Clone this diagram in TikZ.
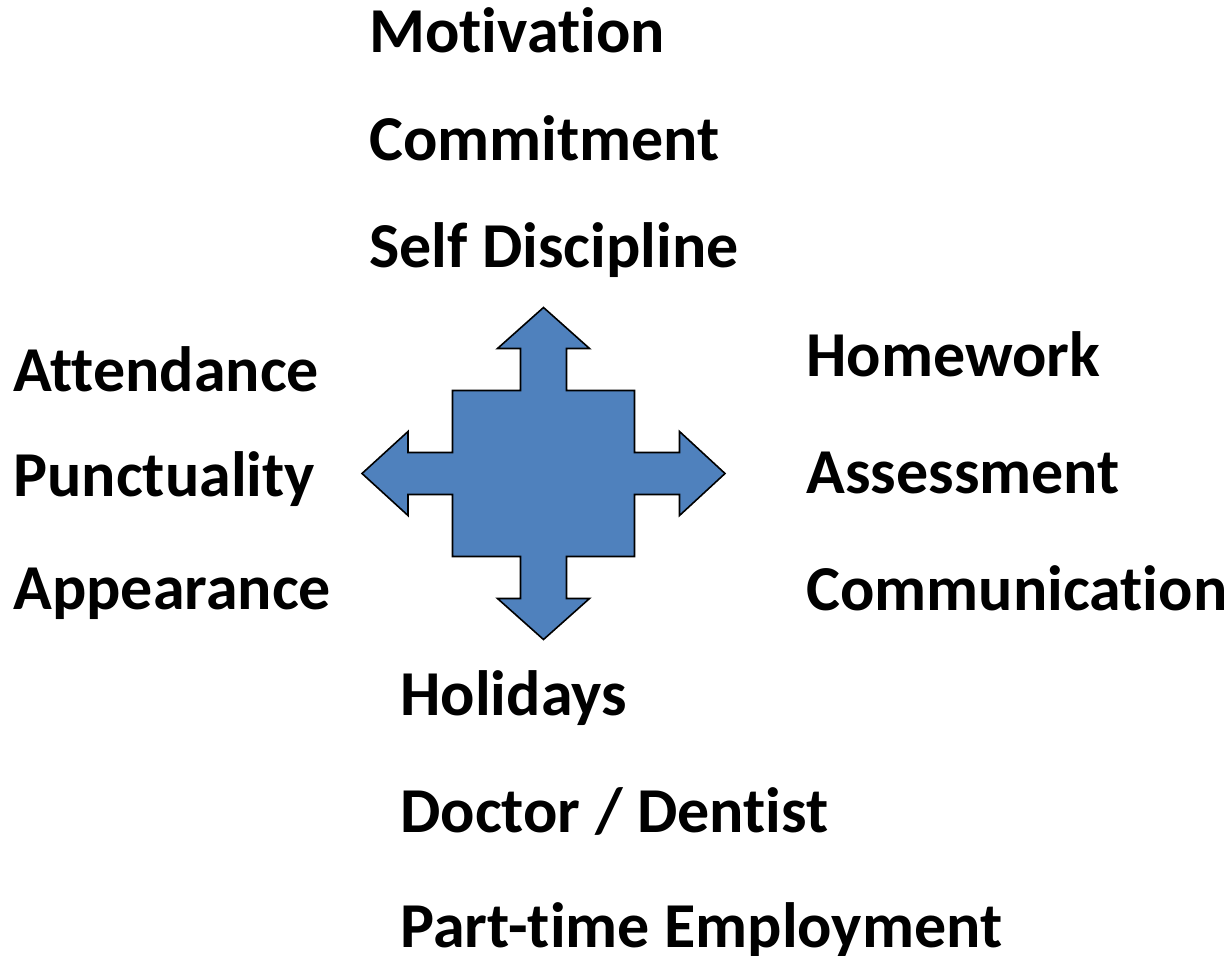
\documentclass[tikz,border=0pt]{standalone}
\usepackage{fontspec}
\setmainfont{Carlito}[RawFeature=-liga]
\usepackage{tikz}
\usetikzlibrary{positioning}

\definecolor{crossblue}{HTML}{4F81BD}
\tikzset{
    item/.style={anchor=base west, inner sep=0pt, font=\fontsize{32}{36}\selectfont\bfseries},
    cross/.style={fill=crossblue, draw=black, line width=0.8pt, line join=miter}
}

\begin{document}
\begin{tikzpicture}[x=0.5pt, y=-0.5pt]
    \useasboundingbox (0,0) rectangle (1229,956);

    % four-way arrow
    \draw[cross] (543.5,307.5) -- (589.5,348.5) -- (566.5,348.5) -- (566.5,390.5)
        -- (634.5,390.5) -- (634.5,452.5) -- (679.5,452.5) -- (679.5,431.5)
        -- (725,473.5) -- (679.5,515.5) -- (679.5,494.5) -- (634.5,494.5)
        -- (634.5,556.5) -- (566.5,556.5) -- (566.5,598.5) -- (589.5,598.5)
        -- (543.5,639.5) -- (497.5,598.5) -- (520.5,598.5) -- (520.5,556.5)
        -- (452.5,556.5) -- (452.5,494.5) -- (408,494.5) -- (408,515.5)
        -- (362,473.5) -- (408,431.5) -- (408,452.5) -- (452.5,452.5)
        -- (452.5,390.5) -- (520.5,390.5) -- (520.5,348.5) -- (497.5,348.5) -- cycle;

    % top
    \node[item] (motivation) at (369,53) {Motivation};
    \node[item] (commitment) at (369,161) {Commitment};
    \node[item] (selfDiscipline) at (369,268) {Self Discipline};

    % left
    \node[item] (attendance) at (13,392) {Attendance};
    \node[item] (punctuality) at (13,496) {Punctuality};
    \node[item] (appearance) at (13,609) {Appearance};

    % right
    \node[item] (homework) at (806,377) {Homework};
    \node[item] (assessment) at (806,493) {Assessment};
    \node[item] (communication) at (806,610) {Communication};

    % bottom
    \node[item] (holidays) at (400,715) {Holidays};
    \node[item] (doctor) at (400,832) {Doctor / Dentist};
    \node[item] (partTime) at (400,947) {Part-time Employment};

\end{tikzpicture}
\end{document}
